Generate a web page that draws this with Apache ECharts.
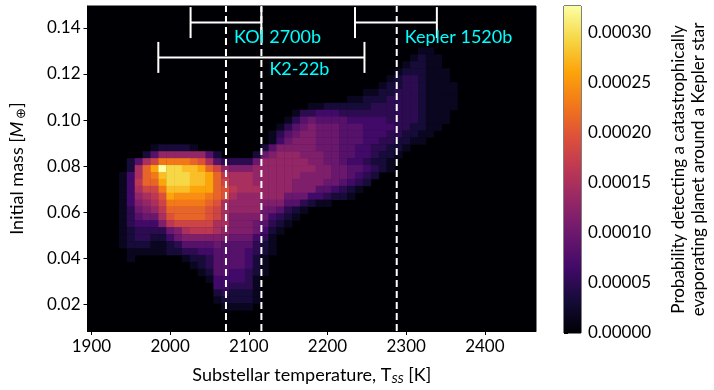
<!DOCTYPE html>
<html>
<head>
<meta charset="utf-8">
<script src="https://cdn.jsdelivr.net/npm/echarts@6/dist/echarts.min.js"></script>
<style>
  html, body { margin: 0; background: #fff; }
  #chart { width: 714px; height: 390px; }
</style>
</head>
<body>
<div id="chart"></div>
<script>
// temperature bins (K) and initial mass bins (Earth masses)
const tempStart = 1900
const tempStep = 10
const massStart = 0.01
const massStep = 0.003
const tempMin = 1895
const tempMax = 2465
const massMin = 0.0085
const massMax = 0.1495

// top of the colour scale, and one level = 1/20 of it
const cbarMax = 0.000327
const levelChars = '0123456789abcdefghijk'

// [mass bin, first temperature bin, levels]
const heatRuns = [
  [40, 42, '11'],
  [39, 41, '1211'],
  [38, 40, '12211'],
  [37, 39, '1222111'],
  [36, 38, '12332111'],
  [35, 37, '1223321111'],
  [34, 35, '112233321111'],
  [33, 33, '11222333321111'],
  [32, 28, '1122222233333321111'],
  [31, 26, '13344433333333332111'],
  [30, 25, '135655554444433332111'],
  [29, 24, '135676665554444332211'],
  [28, 23, '135677666555444332211'],
  [27, 23, '14677766655544332211'],
  [26, 8, '122221000000002577777666554433221'],
  [25, 7, '258888885200002678887776655443221'],
  [24, 5, '259beeeedc953333688888877665443221'],
  [23, 5, '29dgkiihhgdb8777888888887766554321'],
  [22, 4, '149dehiiihhgda9998888887777665432'],
  [21, 4, '14addgiiihhgdb999888887777665432'],
  [20, 4, '149bbehhhgggdca9998888777554321'],
  [19, 4, '1489acgffffedc9888888666443221'],
  [18, 4, '14789beeeeedc98888777553211'],
  [17, 4, '13678adddddcb98888665321'],
  [16, 4, '135669cddddcb9777764321'],
  [15, 4, '134447abbbbb9977765321'],
  [14, 4, '123333679aaa987776421'],
  [13, 4, '12332246777777666431'],
  [12, 4, '12221123555565555321'],
  [11, 5, '1111122334455554321'],
  [10, 5, '100000012235555421'],
  [9, 13, '1235555421'],
  [8, 14, '125544321'],
  [7, 15, '1444431'],
  [6, 16, '443331'],
  [5, 16, '232221'],
  [4, 16, '122221'],
  [3, 17, '1111']
]

// planets: substellar temperature, its error range, and where the labels sit
const planetNames = ['KOI 2700b', 'K2-22b', 'Kepler 1520b']
const planetTemps = [2071, 2116, 2288]
const planetTempLo = [2026, 1985, 2235]
const planetTempHi = [2116, 2247, 2339]
const planetBarMass = [0.1423, 0.1272, 0.1423]
const planetLabelMass = [0.1361, 0.1219, 0.1361]

const inferno = ['#000004', '#160b39', '#420a68', '#6a176e', '#932667', '#bc3754',
  '#dd513a', '#f37819', '#fca50a', '#f6d746', '#fcffa4']

const heatData = []
heatRuns.forEach(([k, c0, s]) => {
  for (let i = 0; i < s.length; i++) {
    const d = levelChars.indexOf(s[i])
    if (d > 0) {
      heatData.push([tempStart + (c0 + i) * tempStep, massStart + k * massStep, d / 20 * cbarMax])
    }
  }
})

const font = 'Lato, "Open Sans", sans-serif'
const chart = echarts.init(document.getElementById('chart'))

chart.setOption({
  animation: false,
  grid: [
    { left: 87, top: 6, width: 449, height: 327, show: true, backgroundColor: '#000004', borderColor: '#000', borderWidth: 1 },
    { left: 564, top: 6, width: 17, height: 327, show: true, backgroundColor: 'transparent', borderColor: '#000', borderWidth: 1 }
  ],
  visualMap: {
    show: false,
    type: 'continuous',
    seriesIndex: 0,
    dimension: 2,
    min: 0,
    max: cbarMax,
    inRange: { color: inferno }
  },
  xAxis: [
    {
      gridIndex: 0,
      type: 'value',
      min: tempMin,
      max: tempMax,
      splitNumber: 6,
      minInterval: 100,
      maxInterval: 100,
      axisLine: { show: true, lineStyle: { color: '#000' } },
      axisTick: { length: 4, lineStyle: { color: '#000' } },
      axisLabel: { color: '#000', fontSize: 17, fontFamily: font, margin: 7, showMinLabel: false, showMaxLabel: false,
        formatter: v => String(v) },
      splitLine: { show: false },
      name: '{n|Substellar temperature, T}{s|SS}{n| [K]}',
      nameLocation: 'middle',
      nameGap: 34,
      nameTextStyle: {
        rich: {
          n: { fontSize: 18, fontFamily: font, color: '#000' },
          s: { fontSize: 12, fontFamily: font, fontStyle: 'italic', color: '#000', verticalAlign: 'bottom', padding: [8, 0, 0, 0] }
        }
      }
    },
    { gridIndex: 1, type: 'value', min: 0, max: 1, show: false }
  ],
  yAxis: [
    {
      gridIndex: 0,
      type: 'value',
      min: massMin,
      max: massMax,
      splitNumber: 7,
      minInterval: 0.02,
      maxInterval: 0.02,
      axisLine: { show: true, lineStyle: { color: '#000' } },
      axisTick: { length: 4, lineStyle: { color: '#000' } },
      axisLabel: { color: '#000', fontSize: 17, fontFamily: font, margin: 7, showMinLabel: false, showMaxLabel: false,
        formatter: v => v.toFixed(2) },
      splitLine: { show: false },
      name: '{n|Initial mass [}{m|M}{s|⊕}{n|]}',
      nameLocation: 'middle',
      nameRotate: 90,
      nameGap: 60,
      nameTextStyle: {
        rich: {
          n: { fontSize: 18, fontFamily: font, color: '#000' },
          m: { fontSize: 18, fontFamily: font, fontStyle: 'italic', color: '#000', padding: [0, 3, 0, 0] },
          s: { fontSize: 13, fontFamily: font, color: '#000', verticalAlign: 'bottom', padding: [8, 0, 0, 0] }
        }
      }
    },
    {
      gridIndex: 1,
      type: 'value',
      position: 'right',
      min: 0,
      max: cbarMax,
      splitNumber: 7,
      minInterval: 0.00005,
      maxInterval: 0.00005,
      axisLine: { show: false },
      axisTick: { show: true, length: 4, lineStyle: { color: '#000' } },
      axisLabel: { color: '#000', fontSize: 17, fontFamily: font, margin: 7, showMaxLabel: false,
        formatter: v => v.toFixed(5) },
      splitLine: { show: false },
      name: 'Probability detecting a catastrophically\nevaporating planet around a Kepler star',
      nameLocation: 'middle',
      nameRotate: 90,
      nameGap: 88,
      nameTextStyle: { fontSize: 17, fontFamily: font, color: '#000', lineHeight: 20 }
    }
  ],
  series: [
    {
      type: 'custom',
      xAxisIndex: 0,
      yAxisIndex: 0,
      clip: true,
      data: heatData,
      renderItem: (params, api) => {
        const p0 = api.coord([api.value(0) - tempStep / 2, api.value(1) + massStep / 2])
        const p1 = api.coord([api.value(0) + tempStep / 2, api.value(1) - massStep / 2])
        return {
          type: 'rect',
          shape: { x: p0[0], y: p0[1], width: p1[0] - p0[0] + 0.4, height: p1[1] - p0[1] + 0.4 },
          style: { fill: api.visual('color') }
        }
      }
    },
    {
      // colour bar
      type: 'custom',
      xAxisIndex: 1,
      yAxisIndex: 1,
      data: [[0, cbarMax]],
      renderItem: (params, api) => {
        const p0 = api.coord([0, api.value(1)])
        const p1 = api.coord([1, 0])
        return {
          type: 'rect',
          shape: { x: p0[0], y: p0[1], width: p1[0] - p0[0], height: p1[1] - p0[1] },
          style: {
            fill: new echarts.graphic.LinearGradient(0, 1, 0, 0,
              inferno.map((c, i) => ({ offset: i / (inferno.length - 1), color: c })))
          }
        }
      }
    },
    {
      // dashed lines at each planet's temperature
      type: 'custom',
      xAxisIndex: 0,
      yAxisIndex: 0,
      data: planetTemps.map(t => [t]),
      renderItem: (params, api) => {
        const a = api.coord([api.value(0), massMin])
        const b = api.coord([api.value(0), massMax])
        return {
          type: 'line',
          shape: { x1: a[0], y1: a[1], x2: b[0], y2: b[1] },
          style: { stroke: '#fff', lineWidth: 2, lineDash: [7, 4] }
        }
      }
    },
    {
      // temperature error bars
      type: 'custom',
      xAxisIndex: 0,
      yAxisIndex: 0,
      data: planetTempLo.map((lo, i) => [lo, planetTempHi[i], planetBarMass[i]]),
      renderItem: (params, api) => {
        const a = api.coord([api.value(0), api.value(2)])
        const b = api.coord([api.value(1), api.value(2)])
        const cap = 15.5
        const st = { stroke: '#fff', lineWidth: 2 }
        return {
          type: 'group',
          children: [
            { type: 'line', shape: { x1: a[0], y1: a[1], x2: b[0], y2: b[1] }, style: st },
            { type: 'line', shape: { x1: a[0], y1: a[1] - cap, x2: a[0], y2: a[1] + cap }, style: st },
            { type: 'line', shape: { x1: b[0], y1: b[1] - cap, x2: b[0], y2: b[1] + cap }, style: st }
          ]
        }
      }
    },
    {
      // planet names
      type: 'custom',
      xAxisIndex: 0,
      yAxisIndex: 0,
      data: planetTemps.map((t, i) => [t, planetLabelMass[i], planetNames[i]]),
      renderItem: (params, api) => {
        const p = api.coord([api.value(0), api.value(1)])
        return {
          type: 'text',
          x: p[0] + 8,
          y: p[1],
          style: {
            text: planetNames[params.dataIndex],
            fill: '#00ffff',
            font: '18px ' + font,
            align: 'left',
            verticalAlign: 'middle'
          }
        }
      }
    }
  ]
})
</script>
</body>
</html>
